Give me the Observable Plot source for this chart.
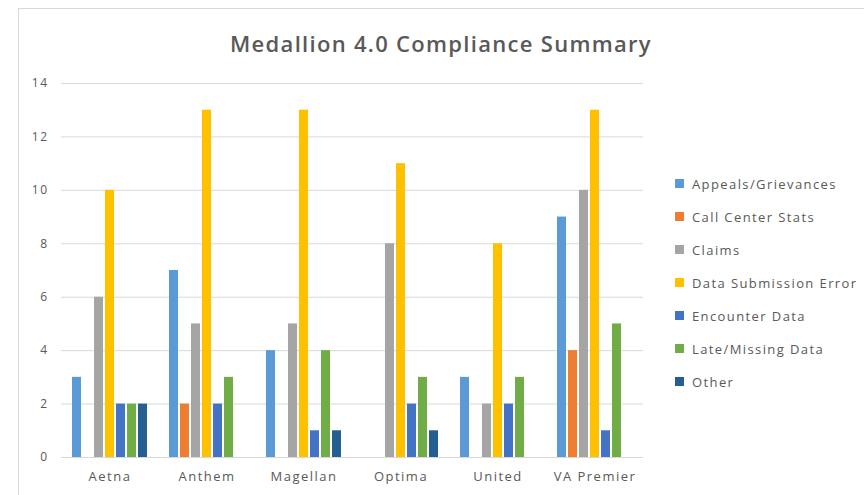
<!DOCTYPE html>
<html><head><meta charset="utf-8">
<script src="https://cdn.jsdelivr.net/npm/d3@7"></script>
<script src="https://cdn.jsdelivr.net/npm/@observablehq/plot@0.6"></script>
<style>
body{margin:0;background:#fff;font-family:"Open Sans",sans-serif;}
#wrap{position:relative;width:864px;height:495px;overflow:hidden;background:#fff;}
#frame{position:absolute;left:18px;top:8px;width:900px;height:600px;border:1px solid #d9d9d9;}
#title{position:absolute;left:18px;width:846px;top:29px;text-align:center;font-size:22px;font-weight:600;color:#595959;line-height:28px;letter-spacing:1.3px;}
#chart{position:absolute;left:0;top:0;}
#chart svg text{letter-spacing:1.5px;}
#legend{position:absolute;left:675px;top:167px;font-size:13px;color:#595959;letter-spacing:1.4px;}
.item{height:33px;display:flex;align-items:center;white-space:nowrap;}
.sw{width:9px;height:9px;margin-right:8px;display:inline-block;}
</style></head>
<body>
<div id="wrap">
  <div id="frame"></div>
  <div id="chart"></div>
  <div id="title">Medallion 4.0 Compliance Summary</div>
  <div id="legend"></div>
</div>
<script>
const groups = ["Aetna","Anthem","Magellan","Optima","United","VA Premier"];
const series = ["Appeals/Grievances","Call Center Stats","Claims","Data Submission Error","Encounter Data","Late/Missing Data","Other"];
const colors = ["#5B9BD5","#ED7D31","#A5A5A5","#FFC000","#4472C4","#70AD47","#255E91"];
const appeals   = [3,7,4,0,3,9];
const callCenter= [0,2,0,0,0,4];
const claims    = [6,5,5,8,2,10];
const dataSub   = [10,13,13,11,8,13];
const encounter = [2,2,1,2,2,1];
const lateMiss  = [2,3,4,3,3,5];
const other     = [2,0,1,1,0,0];
const yTicks = [0,2,4,6,8,10,12,14];

const seriesValues = [appeals, callCenter, claims, dataSub, encounter, lateMiss, other];
const table = [];
groups.forEach((g, gi) => {
  series.forEach((s, si) => {
    table.push({group: g, series: s, value: seriesValues[si][gi]});
  });
});

const chart = Plot.plot({
  width: 864, height: 495,
  marginLeft: 58, marginRight: 219, marginTop: 83, marginBottom: 38,
  style: {fontFamily: "Open Sans, sans-serif", color: "#595959", background: "transparent"},
  fx: {domain: groups, padding: 0, label: null, axis: null},
  x: {domain: series, axis: null, paddingInner: 0.15, paddingOuter: 0.85},
  y: {domain: [0, 14], label: null, axis: null},
  color: {domain: series, range: colors},
  marks: [
    Plot.ruleY(yTicks, {stroke: "#d9d9d9", strokeWidth: 1}),
    Plot.barY(table.filter(d => d.value > 0), {fx: "group", x: "series", y: "value", fill: "series"}),
    Plot.axisY({ticks: yTicks, tickSize: 0, tickPadding: 13, label: null, fontSize: 12, fill: "#595959"}),
    Plot.axisFx({anchor: "bottom", tickSize: 0, tickPadding: 14, label: null, fontSize: 13, fill: "#595959"})
  ]
});
document.getElementById("chart").appendChild(chart);

const legend = document.getElementById("legend");
series.forEach((s, i) => {
  const it = document.createElement("div");
  it.className = "item";
  it.innerHTML = `<span class="sw" style="background:${colors[i]}"></span>${s}`;
  legend.appendChild(it);
});
</script>
</body></html>
